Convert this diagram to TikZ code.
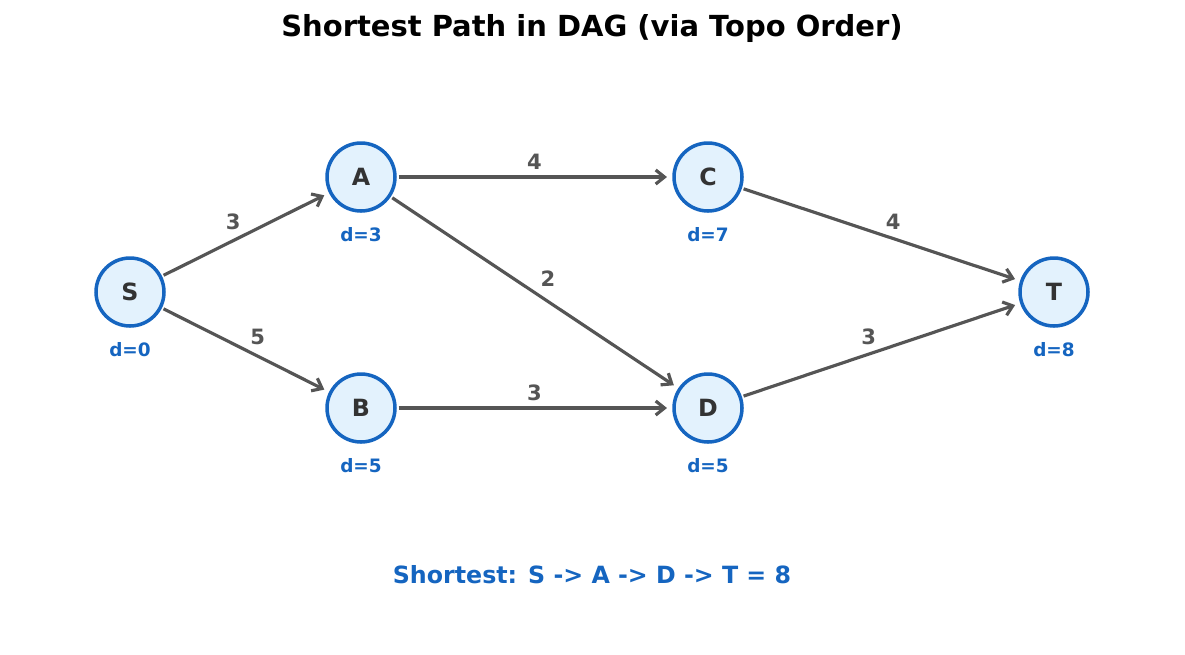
\documentclass[tikz,border=0pt]{standalone}
\usepackage{fontspec}
\setmainfont{DejaVu Sans}
\usetikzlibrary{positioning, arrows.meta}
\definecolor{nodeblue}{HTML}{1565C0}
\definecolor{nodefill}{HTML}{E3F2FD}
\definecolor{edgegray}{HTML}{555555}
\definecolor{textdark}{HTML}{333333}
\begin{document}
\begin{tikzpicture}[x=0.02cm, y=-0.02cm,
    vertex/.style={circle, draw=nodeblue, fill=nodefill, line width=2pt,
        minimum size=1.36cm, inner sep=0pt, font=\bfseries\fontsize{13.5}{16}\selectfont, text=textdark},
    dist/.style={font=\bfseries\fontsize{10.5}{12}\selectfont, text=nodeblue},
    edge/.style={draw=edgegray, line width=1.8pt, -{Straight Barb[length=5pt,width=8pt]}, shorten >=3pt, shorten <=1pt},
    weight/.style={font=\bfseries\fontsize{12}{14}\selectfont, text=edgegray}]
  \useasboundingbox (0,0) rectangle (1185,654);
  \node[font=\bfseries\fontsize{16.5}{19}\selectfont] (title) at (592,28) {Shortest Path in DAG (via Topo Order)};

  \node[vertex] (S) at (130,292) {S};
  \node[vertex] (A) at (361,177) {A};
  \node[vertex] (B) at (361,408) {B};
  \node[vertex] (C) at (708,177) {C};
  \node[vertex] (D) at (708,408) {D};
  \node[vertex] (T) at (1054,292) {T};

  \node[dist, below=0.18cm of S] (dS) {d=0};
  \node[dist, below=0.18cm of A] (dA) {d=3};
  \node[dist, below=0.18cm of B] (dB) {d=5};
  \node[dist, below=0.18cm of C] (dC) {d=7};
  \node[dist, below=0.18cm of D] (dD) {d=5};
  \node[dist, below=0.18cm of T] (dT) {d=8};

  \draw[edge] (S) -- node[weight, above left=-2pt] {3} (A);
  \draw[edge] (S) -- node[weight, above right=-2pt] {5} (B);
  \draw[edge] (A) -- node[weight, above] {4} (C);
  \draw[edge] (A) -- node[weight, above right=-1pt] {2} (D);
  \draw[edge] (B) -- node[weight, above] {3} (D);
  \draw[edge] (C) -- node[weight, above right=-2pt] {4} (T);
  \draw[edge] (D) -- node[weight, above left=-2pt] {3} (T);

  \node[font=\bfseries\fontsize{13.5}{16}\selectfont, text=nodeblue] (result) at (592,575)
      {Shortest: S -> A -> D -> T = 8};
\end{tikzpicture}
\end{document}
